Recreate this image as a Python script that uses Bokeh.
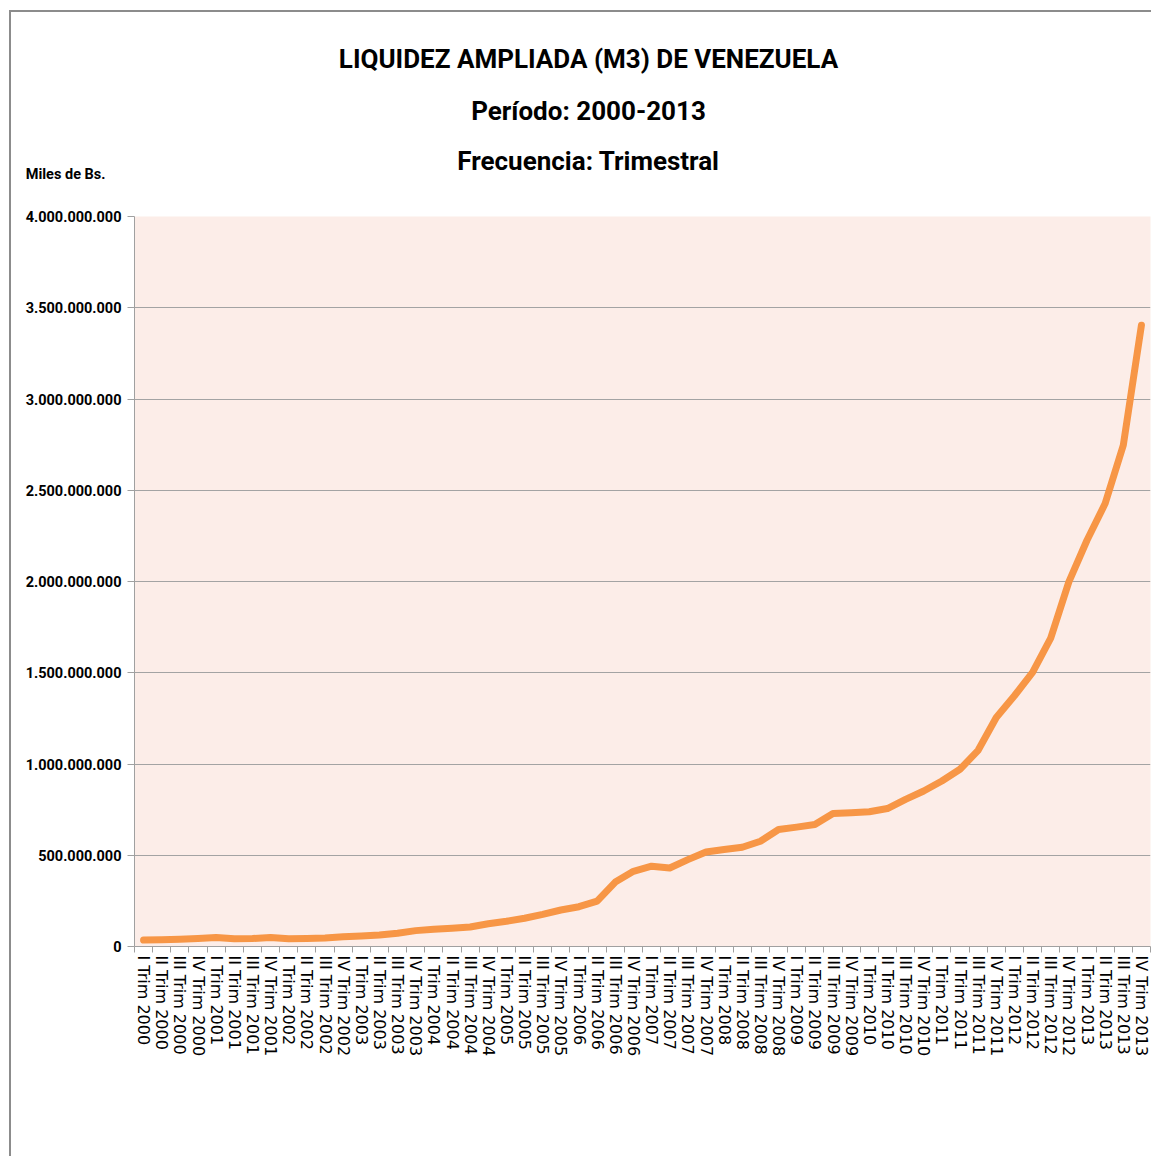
from bokeh.plotting import figure
from bokeh.models import Range1d, FixedTicker, ColumnDataSource, LinearAxis
from bokeh.layouts import column
from bokeh.core.properties import value
from bokeh.embed import file_html
from bokeh.resources import INLINE

# ---- data ----
roman = ["I", "II", "III", "IV"]
years = list(range(2000, 2014))
quarters = [f"{r} Trim {y}" for y in years for r in roman]

# M3, miles de Bs. (in millions)
m3_millions = [
    35, 37, 40, 44, 49, 42, 44, 49, 42, 44, 47, 53, 57, 63,
    73, 87, 95, 100, 107, 125, 138, 155, 176, 200, 218, 249,
    353, 412, 440, 430, 476, 518, 531, 544, 577, 641, 654, 668,
    729, 733, 738, 756, 806, 852, 907, 971, 1075, 1255, 1374, 1502,
    1690, 1998, 2226, 2427, 2747, 3404,
]
m3 = [v * 1e6 for v in m3_millions]

y_ticks = [0, 500000000, 1000000000, 1500000000, 2000000000,
           2500000000, 3000000000, 3500000000, 4000000000]
y_tick_labels = ["0", "500.000.000", "1.000.000.000", "1.500.000.000",
                 "2.000.000.000", "2.500.000.000", "3.000.000.000",
                 "3.500.000.000", "4.000.000.000"]

title_lines = ["LIQUIDEZ AMPLIADA (M3) DE VENEZUELA",
               "Período: 2000-2013",
               "Frecuencia: Trimestral"]
unit_label = "Miles de Bs."

BORDER = "2px solid #8c8c8c"
FONT = "Roboto"
LEFT, RIGHT = 123, 3


def header(height, y_top, y_bottom, top_margin, styles):
    h = figure(width=1142, height=height, output_backend="svg", toolbar_location=None,
               x_range=Range1d(134, 1150), y_range=Range1d(y_bottom, y_top),
               x_axis_location=None, y_axis_location=None,
               min_border_left=LEFT, min_border_right=RIGHT,
               min_border_top=0, min_border_bottom=0,
               margin=(top_margin, 0, 0, 9))
    h.styles = styles
    h.outline_line_color = None
    h.grid.visible = False
    h.background_fill_color = "white"
    h.border_fill_color = "white"
    return h


# header A: first two title lines (page rows 12..144)
head_a = header(132, 12, 144, 10, {"border-top": BORDER, "border-left": BORDER})
src_a = ColumnDataSource(dict(x=[588, 588], y=[58, 110], t=title_lines[:2]))
head_a.text(x="x", y="y", text="t", source=src_a, text_align="center",
            text_baseline="middle", text_font=value(FONT), text_font_style="bold",
            text_font_size="26px", text_color="black")

# header B: third title line + unit caption (page rows 144..208)
head_b = header(64, 144, 208, 0, {"border-left": BORDER})
src_b = ColumnDataSource(dict(x=[588], y=[162], t=title_lines[2:]))
head_b.text(x="x", y="y", text="t", source=src_b, text_align="center",
            text_baseline="middle", text_font=value(FONT), text_font_style="bold",
            text_font_size="26px", text_color="black")

unit_axis = LinearAxis(ticker=FixedTicker(ticks=[]),
                       axis_line_color=None, major_tick_line_color=None,
                       minor_tick_line_color=None, major_tick_out=0,
                       minor_tick_out=0, major_tick_in=0, minor_tick_in=0,
                       major_label_text_font_size="0px",
                       axis_label=unit_label, axis_label_orientation="horizontal",
                       axis_label_standoff=29, axis_label_text_font=FONT,
                       axis_label_text_font_style="bold",
                       axis_label_text_font_size="14.5px",
                       axis_label_text_color="black")
head_b.add_layout(unit_axis, "left")

# ---- main chart ----
n = len(quarters)
xs = [i + 0.5 for i in range(n)]

p = figure(width=1142, height=950, output_backend="svg", toolbar_location=None,
           x_range=Range1d(0, n), y_range=Range1d(0, 4e9),
           min_border_left=LEFT, min_border_right=RIGHT,
           min_border_top=10, min_border_bottom=210,
           margin=(0, 0, 0, 9))
p.styles = {"border-left": BORDER}

p.background_fill_color = "#FCEDE8"
p.border_fill_color = "white"
p.outline_line_color = None

p.line(xs, m3, line_color="#F79646", line_width=7,
       line_join="round", line_cap="round")

# x axis
p.xaxis.ticker = FixedTicker(ticks=xs, minor_ticks=list(range(n + 1)))
p.xaxis.major_label_overrides = {x: q for x, q in zip(xs, quarters)}
p.xaxis.major_label_orientation = "vertical"
p.xaxis.major_tick_line_color = None
p.xaxis.major_tick_out = 6
p.xaxis.major_tick_in = 0
p.xaxis.minor_tick_line_color = "#a0a0a0"
p.xaxis.minor_tick_out = 6
p.xaxis.minor_tick_in = 0
p.xaxis.axis_line_color = "#a0a0a0"
p.xaxis.major_label_text_font = "DejaVu Sans"
p.xaxis.major_label_text_font_size = "16px"
p.xaxis.major_label_text_color = "black"
p.xaxis.major_label_standoff = 3
p.xgrid.grid_line_color = None

# y axis
p.yaxis.ticker = FixedTicker(ticks=y_ticks)
p.yaxis.major_label_overrides = {t: s for t, s in zip(y_ticks, y_tick_labels)}
p.yaxis.minor_tick_line_color = None
p.yaxis.major_tick_out = 7
p.yaxis.major_tick_in = 0
p.yaxis.major_tick_line_color = "#a0a0a0"
p.yaxis.axis_line_color = "#a0a0a0"
p.yaxis.major_label_text_font = FONT
p.yaxis.major_label_text_font_style = "bold"
p.yaxis.major_label_text_font_size = "14.5px"
p.yaxis.major_label_text_color = "black"
p.yaxis.major_label_standoff = 6
p.ygrid.grid_line_color = "#a3a3a3"
p.ygrid.grid_line_width = 1

layout = column(head_a, head_b, p, spacing=0)
open("out.html", "w").write(file_html(layout, INLINE))
